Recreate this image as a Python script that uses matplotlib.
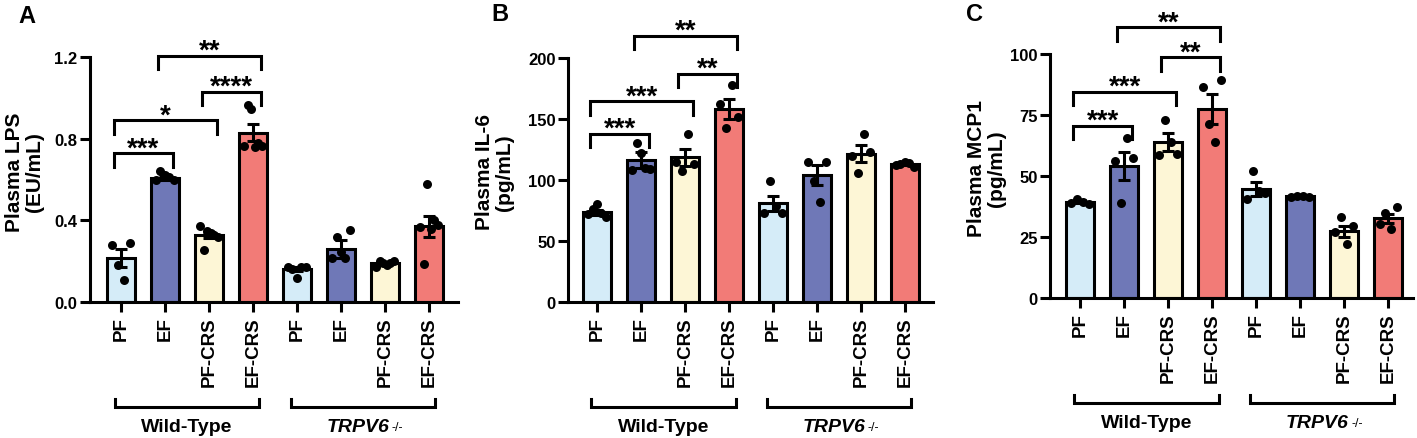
import numpy as np
import matplotlib
matplotlib.use("Agg")
import matplotlib.pyplot as plt
import matplotlib.transforms as mtransforms

plt.rcParams["font.family"] = ["Liberation Sans", "DejaVu Sans"]
plt.rcParams["font.weight"] = "bold"
plt.rcParams["axes.labelweight"] = "bold"

# groups / labels
groups = ["PF", "EF", "PF-CRS", "EF-CRS", "PF", "EF", "PF-CRS", "EF-CRS"]
bar_colors = ["#d5ecf8", "#6f78b7", "#fdf6d6", "#f27b77"] * 2

# panel A: plasma LPS (EU/mL)
lps_mean = [0.215, 0.607, 0.33, 0.83, 0.16, 0.26, 0.19, 0.37]
lps_sem = [0.045, 0.01, 0.015, 0.04, 0.01, 0.045, 0.007, 0.05]
lps_pts = [
    [0.28, 0.18, 0.11, 0.29],
    [0.60, 0.64, 0.62, 0.61, 0.60],
    [0.37, 0.255, 0.35, 0.34, 0.33, 0.32],
    [0.765, 0.965, 0.945, 0.76, 0.78, 0.765],
    [0.17, 0.16, 0.12, 0.17, 0.17],
    [0.215, 0.318, 0.244, 0.215, 0.353],
    [0.17, 0.20, 0.19, 0.18, 0.19, 0.20],
    [0.366, 0.184, 0.58, 0.36, 0.40, 0.375],
]
lps_sig = [(0, 1, 0.728, "***"), (0, 2, 0.89, "*"), (2, 3, 1.03, "****"), (1, 3, 1.205, "**")]

# panel B: plasma IL-6 (pg/mL)
il6_mean = [73.4, 116.4, 118.6, 158.4, 80.8, 104.0, 121.4, 113.0]
il6_sem = [1.8, 6.3, 6.9, 8.0, 6.2, 8.5, 7.0, 0.8]
il6_pts = [
    [72, 76, 80, 73, 70],
    [108, 130, 122, 110, 109],
    [114.5, 107.7, 138, 113],
    [162, 143, 177.5, 152],
    [73, 99.5, 79, 73],
    [115, 99.5, 82, 114.5],
    [120, 106, 137.8, 122.7],
    [112, 113, 115, 114, 111],
]
il6_sig = [(0, 1, 137.8, "***"), (0, 2, 164.4, "***"), (2, 3, 187.0, "**"), (1, 3, 218.0, "**")]

# panel C: plasma MCP1 (pg/mL)
mcp_mean = [39.5, 54.2, 64.0, 77.5, 44.7, 41.9, 27.3, 32.6]
mcp_sem = [0.6, 5.7, 3.6, 6.2, 2.9, 0.4, 2.3, 2.0]
mcp_pts = [
    [39, 40.5, 39.5, 38.5],
    [56.3, 38.9, 65.4, 57.2],
    [58.7, 73, 63.8, 59],
    [86.3, 71.3, 64, 89.3],
    [40.6, 52.2, 44, 43],
    [41.5, 41.8, 42, 41.3],
    [27, 33, 22, 29.6],
    [30.5, 35, 28.3, 37.2],
]
mcp_sig = [(0, 1, 70.6, "***"), (0, 2, 84.6, "***"), (2, 3, 98.6, "**"), (1, 3, 110.9, "**")]

panels = [
    ("A", "Plasma LPS\n(EU/mL)", lps_mean, lps_sem, lps_pts, lps_sig, 1.2, [0, 0.4, 0.8, 1.2], "{:.1f}"),
    ("B", "Plasma IL-6\n(pg/mL)", il6_mean, il6_sem, il6_pts, il6_sig, 200, [0, 50, 100, 150, 200], "{:.0f}"),
    ("C", "Plasma MCP1\n(pg/mL)", mcp_mean, mcp_sem, mcp_pts, mcp_sig, 100, [0, 25, 50, 75, 100], "{:.0f}"),
]

W, H = 1417, 439
fig = plt.figure(figsize=(W / 100, H / 100), dpi=100)

# axes boxes in pixels: left, right, y of zero, y of top
boxes = [(90, 458, 303, 58), (568, 933, 303, 59), (1050, 1413, 299, 55)]
xlims = [(-0.70, 7.66), (-0.66, 7.64), (-0.68, 7.56)]
ylab_x = [44, 514, 1006]
letter_pos = [(18, 5), (491, 3), (966, 3)]

lw = 2.2
for k, (letter, ylab, mean, sem, pts, sig, ymax, yticks, fmt) in enumerate(panels):
    l, r, y0, y1 = boxes[k]
    ax = fig.add_axes([l / W, 1 - y0 / H, (r - l) / W, (y0 - y1) / H])
    x = np.arange(len(mean))
    ax.bar(x, mean, width=0.64, color=bar_colors, edgecolor="black", linewidth=lw, zorder=2)
    for i, vals in enumerate(pts):
        n = len(vals)
        offs = np.linspace(-0.2, 0.2, n)
        ax.scatter(i + offs, vals, s=42, color="black", zorder=3, linewidths=0)
    ax.errorbar(x, mean, yerr=sem, fmt="none", ecolor="black", elinewidth=lw,
                capsize=4.5, capthick=lw, zorder=4)

    ax.set_xlim(*xlims[k])
    ax.set_ylim(0, ymax)
    ax.set_yticks(yticks)
    ax.set_yticklabels([fmt.format(t) for t in yticks], fontsize=12)
    ax.set_xticks(x)
    ax.set_xticklabels(groups, rotation=90, fontsize=13.5)
    for s in ["top", "right"]:
        ax.spines[s].set_visible(False)
    for s in ["left", "bottom"]:
        ax.spines[s].set_linewidth(lw)
    ax.tick_params(axis="y", length=7.5, width=lw, pad=1.5)
    ax.tick_params(axis="x", length=7.5, width=lw, pad=3)
    ax.set_ylabel(ylab, fontsize=15, fontweight="bold", linespacing=1.05)
    ax.yaxis.set_label_coords((ylab_x[k] - l) / (r - l), 0.535)

    # significance brackets
    leg = 0.055 * ymax
    for i, j, yb, lab in sig:
        xl, xr = i - 0.15, j + 0.18
        ax.plot([xl, xl, xr, xr], [yb - leg, yb, yb, yb - leg], color="black",
                lw=lw, clip_on=False, zorder=5, solid_joinstyle="miter")
        ax.annotate(lab, xy=((xl + xr) / 2, yb), xytext=(0, -1.5), textcoords="offset points",
                    ha="center", va="baseline", fontsize=20, fontweight="bold",
                    annotation_clip=False)

    # genotype brackets under the axis
    trans = mtransforms.blended_transform_factory(ax.transData, ax.transAxes)
    ah = y0 - y1
    yline = -105 / ah
    yend = yline + 8 / ah
    ytxt = -125 / ah
    for xa, xb in [(-0.14, 3.15), (3.86, 7.14)]:
        ax.plot([xa, xa, xb, xb], [yend, yline, yline, yend], color="black", lw=lw,
                transform=trans, clip_on=False, solid_joinstyle="miter")
    ax.text((-0.14 + 3.15) / 2, ytxt, "Wild-Type", transform=trans, ha="center",
            va="center", fontsize=14)
    t = ax.text((3.86 + 7.14) / 2 - 0.12, ytxt, "TRPV6", transform=trans, ha="center",
                va="center", fontsize=14, style="italic")
    ax.annotate("-/-", xy=(1, 1), xycoords=t, xytext=(2, -2), textcoords="offset points",
                ha="left", va="top", fontsize=9, fontweight="normal")

    lx, ly = letter_pos[k]
    fig.text(lx / W, 1 - ly / H, letter, fontsize=17, fontweight="bold", va="top", ha="left")

fig.savefig("out.png", dpi=100)
